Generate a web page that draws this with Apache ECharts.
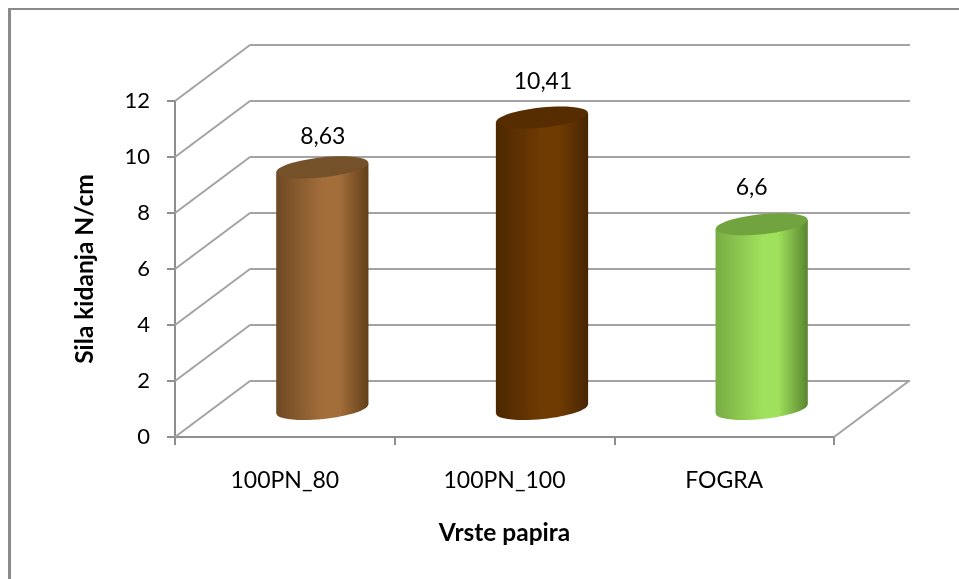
<!DOCTYPE html>
<html>
<head>
<meta charset="utf-8">
<style>
html, body { margin: 0; padding: 0; background: #fff; }
#chart { width: 959px; height: 579px; }
</style>
<script src="https://fastly.jsdelivr.net/npm/echarts@6/dist/echarts.min.js"></script>
</head>
<body>
<div id="chart"></div>
<script>
const categories = ['100PN_80', '100PN_100', 'FOGRA'];
const values = [8.63, 10.41, 6.6];
const yTicks = [0, 2, 4, 6, 8, 10, 12];

const xTitle = 'Vrste papira';
const yTitle = 'Sila kidanja N/cm';

// colours of each cylinder: left edge, middle, right edge, lid
const barColors = [
  ['#6e4923', '#a36e3a', '#624019', '#75512a'],
  ['#4c2700', '#703b03', '#472502', '#552d01'],
  ['#78ad43', '#9fe05c', '#59862f', '#71a43f']
];
// manual label shift from the lid centre, excel had them moved by hand
const labelShift = [[0.5, -31], [1, -36], [-10, -37]];

const FONT = 'Lato, Carlito, sans-serif';
const GRID_COLOR = '#a3a3a3';
const AXIS_COLOR = '#8e8e8e';
const DEPTH_X = 75, DEPTH_Y = -56;
const TILT = 6 * Math.PI / 180;

function renderWall(params, api) {
  const v = api.value(0);
  const p = api.coord([0, v]);
  const x0 = params.coordSys.x;
  const x1 = params.coordSys.x + params.coordSys.width;
  const style = { stroke: GRID_COLOR, lineWidth: 2 };
  const kids = [{
    type: 'line',
    shape: { x1: x0, y1: p[1], x2: x0 + DEPTH_X, y2: p[1] + DEPTH_Y },
    style: style
  }];
  if (v === 0) {
    kids.push({
      type: 'line',
      shape: { x1: x1, y1: p[1], x2: x1 + DEPTH_X, y2: p[1] + DEPTH_Y },
      style: style
    });
  }
  return { type: 'group', children: kids };
}

function renderCylinder(params, api) {
  const i = api.value(0);
  const v = api.value(1);
  const band = api.size([1, 0])[0];
  const a = band * 0.21;
  const b = 10;
  const top = api.coord([i, v]);
  const base = api.coord([i, 0]);
  const cx = top[0] + DEPTH_X / 2;
  const topY = top[1] + DEPTH_Y / 2;
  const baseY = base[1] + DEPTH_Y / 2;
  const edge = 4.5;
  const c = barColors[i];
  const fill = new echarts.graphic.LinearGradient(0, 0, 1, 0, [
    { offset: 0, color: c[0] },
    { offset: 0.5, color: c[1] },
    { offset: 0.68, color: c[1] },
    { offset: 1, color: c[2] }
  ]);
  const s = labelShift[i];
  return {
    type: 'group',
    children: [
      {
        type: 'ellipse',
        x: cx, y: baseY, rotation: TILT,
        shape: { cx: 0, cy: 0, rx: a, ry: b },
        style: { fill: fill }
      },
      {
        type: 'polygon',
        shape: { points: [
          [cx - a, topY + edge], [cx + a, topY - edge],
          [cx + a, baseY - edge], [cx - a, baseY + edge]
        ] },
        style: { fill: fill }
      },
      {
        type: 'ellipse',
        x: cx, y: topY, rotation: TILT,
        shape: { cx: 0, cy: 0, rx: a, ry: b },
        style: { fill: c[3] }
      },
      {
        type: 'text',
        x: cx + s[0], y: topY + s[1],
        style: {
          text: String(v).replace('.', ','),
          font: '23px ' + FONT,
          fill: '#000',
          align: 'center',
          verticalAlign: 'middle'
        }
      }
    ]
  };
}

const chart = echarts.init(document.getElementById('chart'), null, { renderer: 'canvas' });
chart.setOption({
  animation: false,
  backgroundColor: '#fff',
  textStyle: { fontFamily: FONT },
  graphic: [
    { type: 'line', silent: true, shape: { x1: 9.5, y1: 8, x2: 9.5, y2: 579 }, style: { stroke: '#8a8a8a', lineWidth: 3 } },
    { type: 'line', silent: true, shape: { x1: 8, y1: 9, x2: 959, y2: 9 }, style: { stroke: '#8a8a8a', lineWidth: 2 } }
  ],
  grid: [
    { left: 175, right: 125, top: 101, bottom: 142 },
    { left: 250, right: 49, top: 45, bottom: 198 }
  ],
  xAxis: [
    {
      type: 'category', gridIndex: 0, data: categories,
      name: xTitle, nameLocation: 'middle', nameGap: 84,
      nameTextStyle: { fontSize: 24.5, fontWeight: 'bold', color: '#000', fontFamily: FONT },
      axisLine: { lineStyle: { color: AXIS_COLOR, width: 2 } },
      axisTick: { show: true, length: 8, alignWithLabel: false, lineStyle: { color: AXIS_COLOR, width: 2 } },
      axisLabel: { fontSize: 23, color: '#000', margin: 32, fontFamily: FONT }
    },
    {
      type: 'category', gridIndex: 1, data: categories,
      axisLine: { show: false }, axisTick: { show: false }, axisLabel: { show: false }
    }
  ],
  yAxis: [
    {
      type: 'value', gridIndex: 0, min: 0, max: 12, interval: 2,
      name: yTitle, nameLocation: 'middle', nameGap: 77, nameRotate: 90,
      nameTextStyle: { fontSize: 24.5, fontWeight: 'bold', color: '#000', fontFamily: FONT },
      axisLine: { show: true, lineStyle: { color: AXIS_COLOR, width: 2 } },
      axisTick: { show: true, length: 8, lineStyle: { color: AXIS_COLOR, width: 2 } },
      splitLine: { show: false },
      axisLabel: { fontSize: 22, color: '#000', margin: 25, fontFamily: FONT }
    },
    {
      type: 'value', gridIndex: 1, min: 0, max: 12, interval: 2,
      axisLine: { show: false }, axisTick: { show: false }, axisLabel: { show: false },
      splitLine: { show: true, lineStyle: { color: GRID_COLOR, width: 2 } }
    }
  ],
  series: [
    {
      type: 'custom', xAxisIndex: 0, yAxisIndex: 0, z: 1, silent: true,
      renderItem: renderWall,
      encode: { y: 0 },
      data: yTicks.map(function (t) { return [t]; })
    },
    {
      type: 'custom', xAxisIndex: 0, yAxisIndex: 0, z: 3, silent: true,
      renderItem: renderCylinder,
      encode: { x: 0, y: 1 },
      data: values.map(function (v, i) { return [i, v]; })
    }
  ]
});
</script>
</body>
</html>
